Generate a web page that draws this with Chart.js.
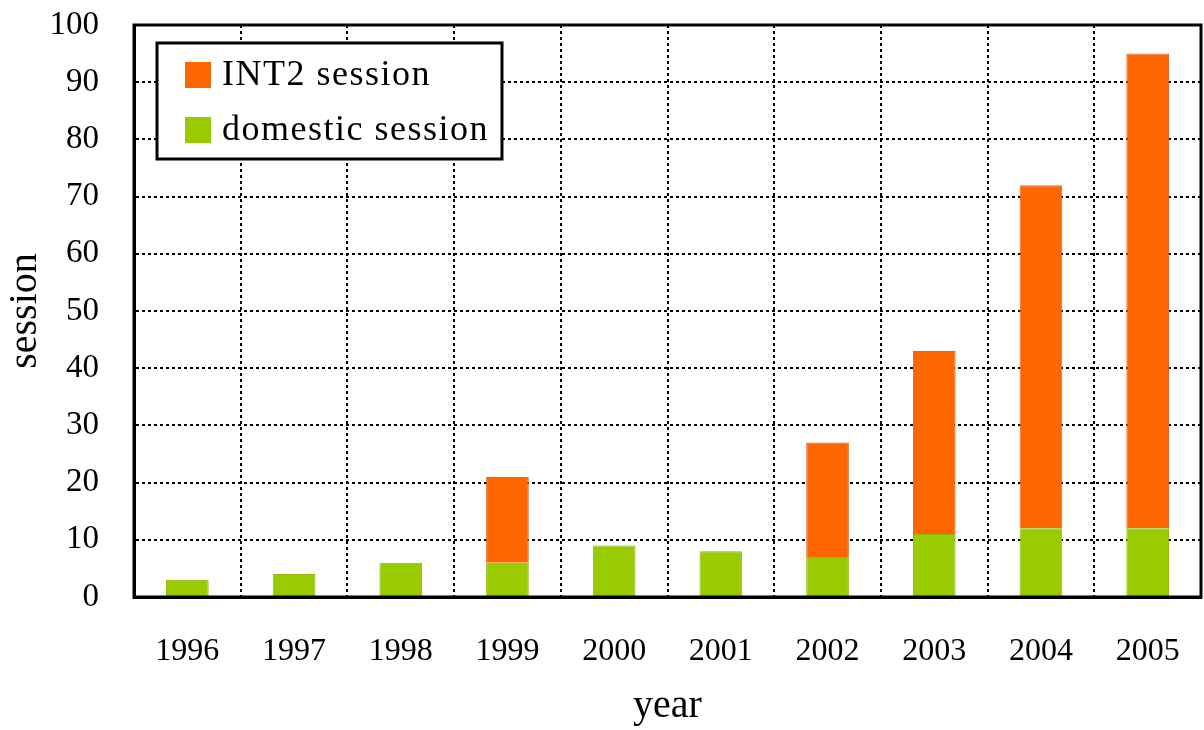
<!DOCTYPE html>
<html>
<head>
<meta charset="utf-8">
<script src="https://cdn.jsdelivr.net/npm/chart.js@4"></script>
<style>
  html, body { margin: 0; padding: 0; background: #fff; }
</style>
</head>
<body>
<canvas id="chart" width="1204" height="730"></canvas>
<script>
/* global Chart */
var years = ["1996", "1997", "1998", "1999", "2000", "2001", "2002", "2003", "2004", "2005"];
var domestic = [3, 4, 6, 6, 9, 8, 7, 11, 12, 12];
var int2 = [null, null, null, 15, null, null, 20, 32, 60, 83];
var seriesNames = ["domestic session", "INT2 session"];
var yMax = 100;
var yStep = 10;

var FONT = "'Liberation Serif', 'Times New Roman', serif";

// frame round the plot area (top and right sides are solid too)
var framePlugin = {
  id: "frame",
  afterDatasetsDraw: function (chart) {
    var a = chart.chartArea;
    var ctx = chart.ctx;
    ctx.save();
    ctx.lineWidth = 3;
    ctx.strokeStyle = "#000";
    ctx.strokeRect(a.left, a.top, a.right - a.left, a.bottom - a.top);
    ctx.restore();
  }
};

// boxed legend inside the plot, INT2 listed first
var boxLegend = {
  id: "boxLegend",
  afterDraw: function (chart) {
    var a = chart.chartArea;
    var ctx = chart.ctx;
    var sets = chart.data.datasets.slice().reverse();
    ctx.save();
    ctx.font = "36px " + FONT;
    if ("letterSpacing" in ctx) ctx.letterSpacing = "1.5px";
    var w = 0;
    sets.forEach(function (d) { w = Math.max(w, ctx.measureText(d.label).width); });
    var x = a.left + 23, y = a.top + 18;
    var bw = 65 + w + 13, bh = 116;
    ctx.fillStyle = "#fff";
    ctx.fillRect(x, y, bw, bh);
    ctx.lineWidth = 3;
    ctx.strokeStyle = "#000";
    ctx.strokeRect(x, y, bw, bh);
    sets.forEach(function (d, i) {
      var cy = y + 32 + i * 55;
      ctx.fillStyle = d.backgroundColor;
      ctx.fillRect(x + 28, cy - 13, 26, 26);
      ctx.fillStyle = "#000";
      ctx.textBaseline = "middle";
      ctx.fillText(d.label, x + 65, cy + 1);
    });
    ctx.restore();
  }
};

new Chart(document.getElementById("chart"), {
  type: "bar",
  data: {
    labels: years,
    datasets: [
      {
        label: seriesNames[0],
        data: domestic,
        backgroundColor: "#99CC00",
        borderColor: "#8fb80a",
        borderWidth: 1,
        barPercentage: 0.5,
        categoryPercentage: 0.8
      },
      {
        label: seriesNames[1],
        data: int2,
        backgroundColor: "#FF6600",
        borderColor: "#d9662a",
        borderWidth: 1,
        barPercentage: 0.5,
        categoryPercentage: 0.8
      }
    ]
  },
  options: {
    responsive: false,
    animation: false,
    devicePixelRatio: 1,
    layout: { padding: { left: 0, right: 3, top: 25, bottom: 0 } },
    plugins: {
      legend: { display: false },
      tooltip: { enabled: false }
    },
    scales: {
      x: {
        stacked: true,
        grid: { color: "#000", lineWidth: 2, drawTicks: false, offset: true },
        border: { display: true, color: "#000", width: 3, dash: [3, 3] },
        ticks: { color: "#000", font: { family: FONT, size: 32 }, padding: 35 },
        title: { display: true, text: "year", color: "#000", font: { family: FONT, size: 40 }, padding: { top: 0, bottom: 0 } },
        afterFit: function (scale) {
          scale.height = 133;
          scale.paddingLeft = 0;
          scale.paddingRight = 0;
        }
      },
      y: {
        stacked: true,
        min: 0,
        max: yMax,
        grid: { color: "#000", lineWidth: 2, drawTicks: false },
        border: { display: true, color: "#000", width: 3, dash: [3, 3] },
        ticks: { stepSize: yStep, color: "#000", font: { family: FONT, size: 33 }, padding: 35 },
        title: { display: true, text: "session", color: "#000", font: { family: FONT, size: 40 }, padding: { top: 1, bottom: 0 } },
        afterFit: function (scale) {
          scale.width = 134;
          scale.paddingTop = 0;
          scale.paddingBottom = 0;
        }
      }
    }
  },
  plugins: [framePlugin, boxLegend]
});
</script>
</body>
</html>
